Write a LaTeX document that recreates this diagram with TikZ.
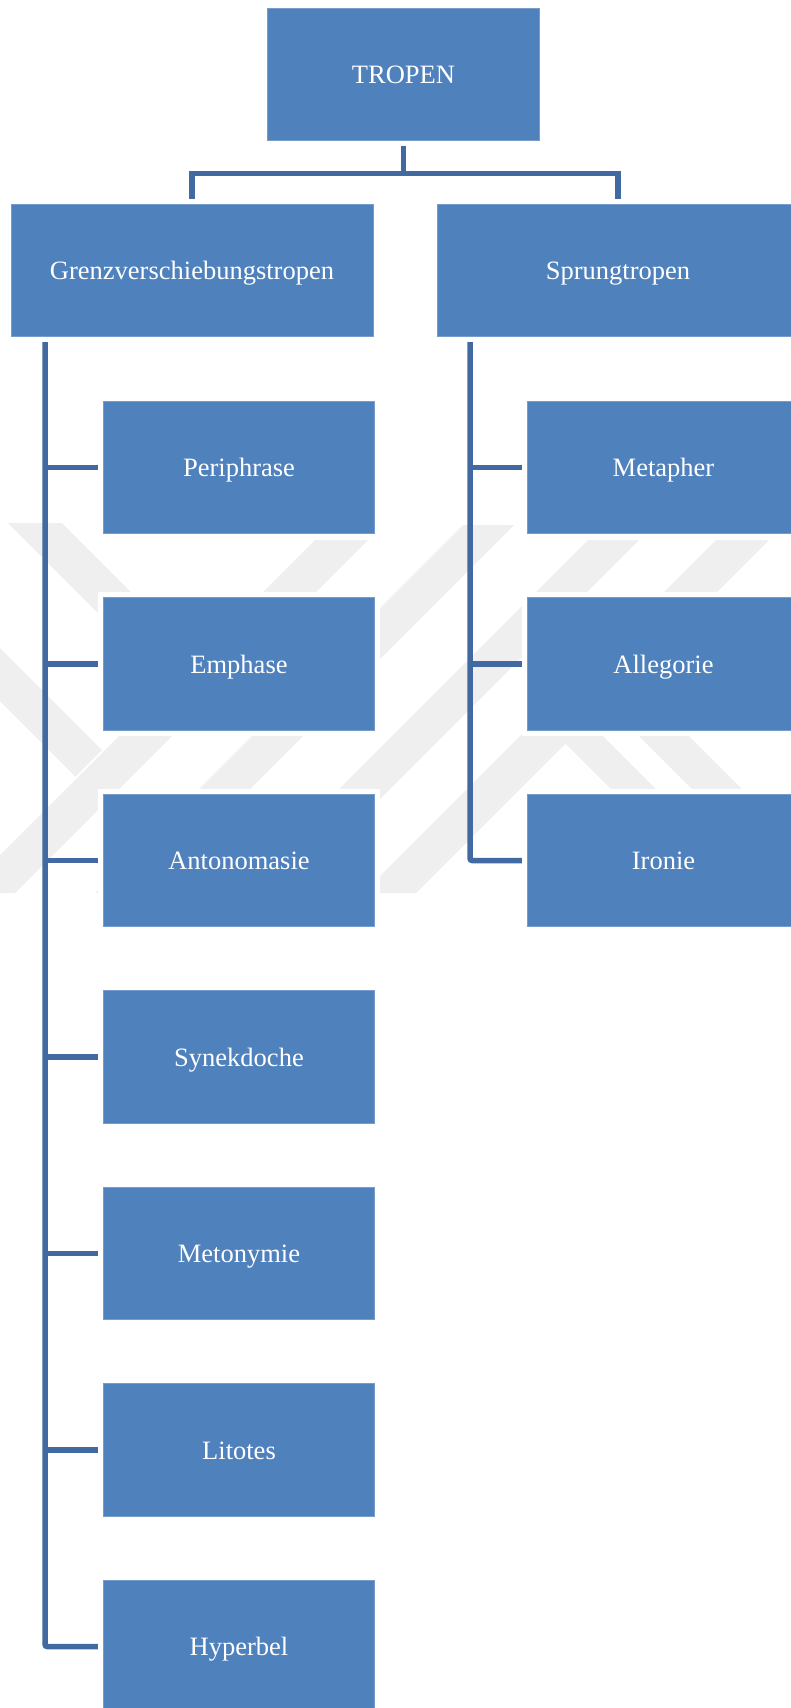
\documentclass[tikz,border=0pt]{standalone}
\usepackage{fontspec}
\setmainfont{Liberation Serif}
\definecolor{boxblue}{RGB}{79,129,189}
\definecolor{boxedge}{RGB}{118,156,206}
\definecolor{linkblue}{RGB}{66,106,162}
\definecolor{wmgrey}{RGB}{239,239,239}
\pgfdeclarelayer{wm}
\pgfdeclarelayer{background}
\pgfsetlayers{wm,background,main}
\tikzset{
  tbox/.style={rectangle, fill=boxblue, draw=boxedge, line width=0.8pt,
    minimum height=132.7pt, inner sep=0pt, text=white,
    text height=19pt, text depth=0.8pt,
    font=\fontsize{26.5}{30}\selectfont,
    preaction={draw=white, line width=11pt, rounded corners=3pt}},
  wbox/.style={tbox, minimum width=362pt},
  cbox/.style={tbox, minimum width=271.4pt},
  link/.style={draw=linkblue, line width=5.5pt},
  wmband/.style={fill=wmgrey, draw=none}
}
\begin{document}
\begin{tikzpicture}[x=1pt,y=-1pt]
\useasboundingbox (0,0) rectangle (791,1708);
% boxes
\node[cbox] (tropen) at (403.5,74.4) {TROPEN};
\node[wbox] (grenz) at (192,270.5) {Grenzverschiebungstropen};
\node[wbox] (sprung) at (618,270.5) {Sprungtropen};
\node[cbox] (periph) at (239,467.5) {Periphrase};
\node[cbox] (emph) at (239,664) {Emphase};
\node[cbox] (anton) at (239,860.5) {Antonomasie};
\node[cbox] (synek) at (239,1057) {Synekdoche};
\node[cbox] (meton) at (239,1253.5) {Metonymie};
\node[cbox] (litot) at (239,1450) {Litotes};
\node[cbox] (hyper) at (239,1646.5) {Hyperbel};
\node[cbox] (metaph) at (663.5,467.5) {Metapher};
\node[cbox] (alleg) at (663.5,664) {Allegorie};
\node[cbox] (ironie) at (663.5,860.5) {Ironie};
\coordinate (lbus) at ([xshift=34.5pt]grenz.south west);
\coordinate (rbus) at ([xshift=33.5pt]sprung.south west);
% connectors
\begin{pgfonlayer}{background}
\draw[link] (tropen.south) -- ++(0,32.3) -| (grenz.north);
\draw[link] (tropen.south) -- ++(0,32.3) -| (sprung.north);
\draw[link, rounded corners=2pt] (lbus) |- (hyper.west);
\foreach \c in {periph,emph,anton,synek,meton,litot}
  \draw[link] (lbus |- \c.west) -- (\c.west);
\draw[link, rounded corners=2pt] (rbus) |- (ironie.west);
\foreach \c in {metaph,alleg}
  \draw[link] (rbus |- \c.west) -- (\c.west);
\end{pgfonlayer}
% watermark
\begin{pgfonlayer}{wm}
\begin{scope}
\clip (0,523) rectangle (791,893);
\fill[wmband] (8,523) -- (62,523) -- (197,658) -- (170,685) -- cycle;
\fill[wmband] (0,648) -- (102,750) -- (75.5,776.5) -- (0,701) -- cycle;
\fill[wmband] (315,540) -- (368,540) -- (15,893) -- (-38,893) -- cycle;
\fill[wmband] (463,525) -- (514,525) -- (146,893) -- (95,893) -- cycle;
\fill[wmband] (588,540) -- (639,540) -- (286,893) -- (235,893) -- cycle;
\fill[wmband] (716,540) -- (769,540) -- (416,893) -- (363,893) -- cycle;
\fill[wmband] (561.5,694.5) -- (539,717) -- (715,893) -- (760,893) -- cycle;
\fill[wmband] (604.5,651.5) -- (579.5,676.5) -- (796,893) -- (846,893) -- cycle;
\end{scope}
\end{pgfonlayer}
\end{tikzpicture}
\end{document}
